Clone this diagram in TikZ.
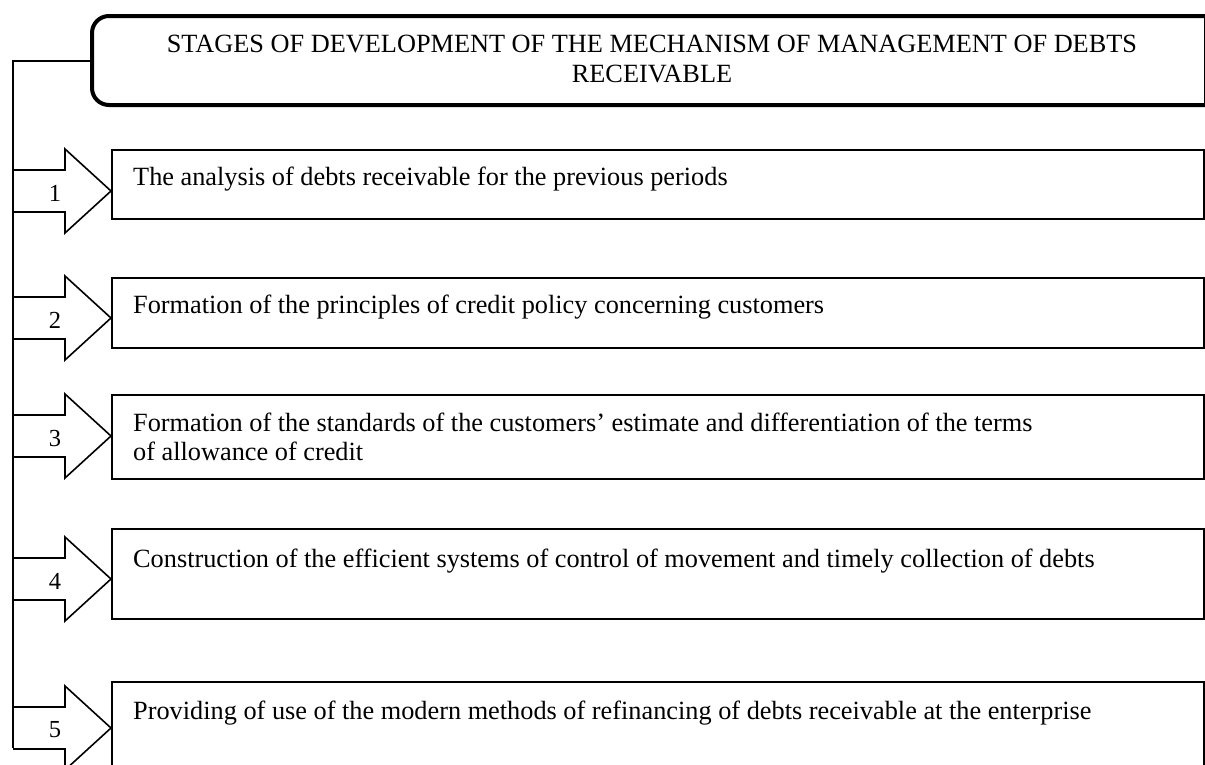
\documentclass[tikz,border=0pt]{standalone}
\usepackage{fontspec}
\setmainfont{Liberation Serif}
\usetikzlibrary{calc}
\begin{document}
\begin{tikzpicture}[x=1pt,y=-1pt,
  stagebox/.style={draw=black,line width=2.2pt,fill=white,rectangle,inner sep=0pt,
    minimum width=1092pt,anchor=north west},
  titlebox/.style={draw=black,line width=4pt,rounded corners=17pt,rectangle,inner sep=0pt,
    minimum width=1130pt,minimum height=89pt,anchor=north west},
  stagetext/.style={inner sep=0pt,anchor=base west,align=left,
    font=\fontsize{26.3}{30}\selectfont},
  titletext/.style={inner sep=0pt,align=center,font=\fontsize{26.3}{30}\selectfont},
  numtext/.style={inner sep=0pt,font=\fontsize{24.5}{28}\selectfont},
  arrowline/.style={draw=black,line width=1.6pt,line join=miter},
  busline/.style={draw=black,line width=2pt},
  stagearrow/.pic={\draw[arrowline] (-98,-21) -- (-46,-21) -- (-46,-42) -- (0,0)
     -- (-46,42) -- (-46,21) -- (-98,21);}
]
\useasboundingbox (0,0) rectangle (1205,764);
\fill[white] (0,0) rectangle (1205,764);

% title
\node[titlebox] (title) at (90,14) {};
\draw[line width=0.8pt] (1204,14) -- (1204,103);
\node[titletext] (ttl) at (652,59)
  {STAGES OF DEVELOPMENT OF THE MECHANISM OF MANAGEMENT OF DEBTS\\RECEIVABLE};

% bus
\coordinate (busbot) at (13,748);
\draw[busline] (title.west) -| (busbot);

% stage boxes
\node[stagebox,minimum height=69pt] (b1) at (111,149) {};
\node[stagebox,minimum height=70pt] (b2) at (111,277) {};
\node[stagebox,minimum height=84pt] (b3) at (111,394) {};
\node[stagebox,minimum height=90pt] (b4) at (111,528) {};
\node[stagebox,minimum height=120pt] (b5) at (111,681) {};

% texts
\node[stagetext] (t1) at ($(b1.north west)+(22,36)$)
  {The analysis of debts receivable for the previous periods};
\node[stagetext] (t2) at ($(b2.north west)+(22,36)$)
  {Formation of the principles of credit policy concerning customers};
\node[stagetext] (t3) at ($(b3.north west)+(22,37)$)
  {Formation of the standards of the customers’ estimate and differentiation of the terms};
\node[stagetext] (t3b) at ($(t3.base west)+(0,29)$)
  {of allowance of credit};
\node[stagetext] (t4) at ($(b4.north west)+(22,39)$)
  {Construction of the efficient systems of control of movement and timely collection of debts};
\node[stagetext] (t5) at ($(b5.north west)+(22,38)$)
  {Providing of use of the modern methods of refinancing of debts receivable at the enterprise};

% arrows
\pic at (b1.west |- 0,191) {stagearrow};
\pic at (b2.west |- 0,318) {stagearrow};
\pic at (b3.west |- 0,436) {stagearrow};
\pic at (b4.west |- 0,579) {stagearrow};
\pic at (b5.west |- 0,728) {stagearrow};

% numbers
\node[numtext] (n1) at (55,193) {1};
\node[numtext] (n2) at (55,320) {2};
\node[numtext] (n3) at (55,438) {3};
\node[numtext] (n4) at (55,581) {4};
\node[numtext] (n5) at (55,730) {5};
\end{tikzpicture}
\end{document}
